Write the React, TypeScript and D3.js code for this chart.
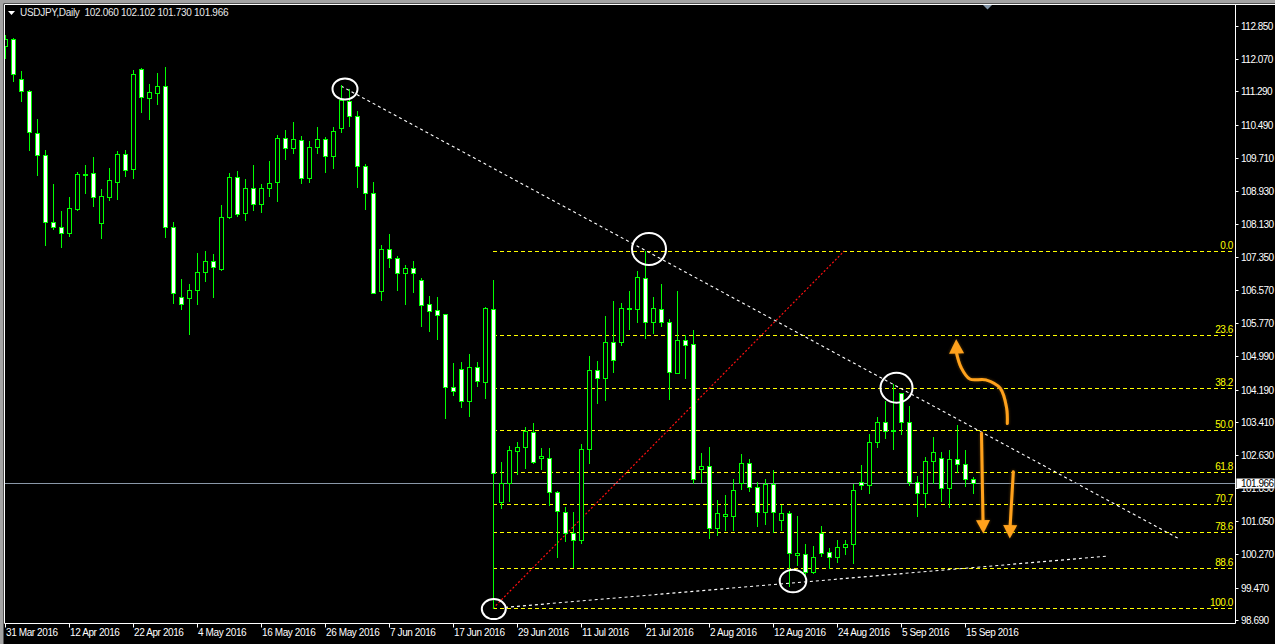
import React from 'react';
import * as d3 from 'd3';

// ---- Data (USDJPY daily, 31 Mar 2016 .. 16 Sep 2016) ----
const opens = [
  112.381, 112.533, 111.58, 111.301, 110.294, 109.769, 108.173, 108.054, 107.911, 108.49,
  109.324, 109.34, 108.149, 108.782, 109.14, 109.793, 109.436, 111.818, 111.142, 111.261,
  111.413, 108.068, 106.386, 106.377, 106.553, 106.982, 107.244, 107.053, 108.292, 109.245,
  108.387, 108.983, 108.602, 108.983, 109.126, 110.174, 109.936, 110.127, 109.221, 109.96,
  110.151, 109.745, 110.415, 111.07, 110.701, 109.512, 108.874, 106.543, 107.527, 107.313,
  106.97, 107.084, 106.789, 106.22, 106.083, 105.98, 104.254, 104.67, 103.908, 104.73,
  104.377, 106.107, 101.516, 101.954, 102.731, 102.812, 103.17, 102.56, 102.55, 101.74,
  101.278, 100.763, 100.603, 102.764, 104.647, 104.456, 105.314, 105.314, 106.107, 106.1,
  106.839, 105.79, 106.1, 105.79, 104.589, 105.369, 105.266, 102.288, 102.36, 100.882,
  101.182, 101.182, 101.969, 102.431, 101.859, 101.263, 101.938, 101.08, 101.24, 100.246,
  100.262, 99.848, 100.777, 100.31, 100.206, 100.43, 100.501, 101.992, 101.907, 102.945,
  103.408, 103.2, 104.099, 103.408, 101.992, 101.716, 102.478, 102.55, 101.835, 102.526,
  102.407, 102.06,
];
const highs = [
  112.636, 112.571, 111.778, 111.325, 110.634, 109.896, 109.086, 108.442, 108.769, 109.379,
  109.538, 109.729, 108.966, 109.467, 109.872, 109.896, 111.802, 111.856, 111.468, 111.737,
  111.88, 108.173, 106.822, 106.696, 107.449, 107.489, 107.411, 108.585, 109.34, 109.395,
  109.205, 109.531, 109.086, 109.634, 110.253, 110.372, 110.563, 110.222, 110.11, 110.436,
  110.198, 110.436, 111.44, 111.342, 110.825, 109.569, 109.136, 107.635, 107.897, 107.37,
  107.148, 107.256, 106.846, 106.419, 106.395, 106.0, 104.811, 104.835, 105.026, 104.835,
  106.164, 106.805, 102.455, 102.843, 102.938, 103.303, 103.391, 102.788, 102.788, 101.778,
  101.397, 101.263, 102.891, 104.988, 104.868, 105.94, 106.298, 106.257, 106.536, 107.013,
  107.489, 106.386, 106.696, 105.869, 106.536, 105.488, 105.607, 102.669, 102.819, 101.556,
  101.675, 102.057, 102.652, 102.533, 101.992, 102.057, 102.271, 101.437, 101.302, 101.175,
  100.501, 100.46, 100.937, 100.405, 100.603, 100.603, 101.938, 102.39, 103.129, 103.541,
  103.915, 104.32, 104.113, 103.796, 102.128, 102.574, 103.065, 102.707, 102.748, 103.344,
  102.748, 102.102,
];
const lows = [
  112.08, 111.547, 111.07, 109.896, 109.3, 107.632, 108.013, 107.592, 107.854, 108.466,
  108.878, 108.569, 107.806, 108.704, 108.728, 109.283, 109.236, 110.808, 110.634, 110.992,
  107.83, 106.257, 106.114, 105.512, 106.226, 106.782, 106.4, 107.04, 108.268, 108.323,
  108.221, 108.473, 108.426, 108.807, 108.688, 109.674, 109.831, 109.102, 109.14, 109.831,
  109.379, 109.46, 110.332, 110.472, 109.021, 108.488, 106.49, 106.329, 107.108, 106.558,
  106.231, 106.517, 105.705, 105.59, 105.393, 103.522, 104.056, 103.77, 103.565, 104.277,
  103.999, 98.976, 101.373, 101.54, 102.169, 102.326, 102.431, 102.288, 101.43, 100.191,
  100.587, 99.967, 100.525, 102.431, 103.875, 103.94, 104.613, 105.25, 105.624, 105.805,
  105.409, 105.542, 105.709, 103.963, 104.582, 104.47, 101.968, 101.992, 100.658, 100.722,
  100.842, 100.842, 101.818, 101.778, 100.944, 100.985, 100.801, 100.842, 99.508, 100.008,
  99.753, 99.82, 100.222, 99.929, 100.087, 100.27, 100.048, 101.811, 101.73, 102.826,
  103.041, 102.772, 103.122, 101.914, 101.182, 101.397, 101.954, 101.54, 101.397, 102.231,
  101.89, 101.73,
];
const closes = [
  112.533, 111.699, 111.294, 110.317, 109.769, 108.173, 108.068, 107.911, 108.506, 109.317,
  109.312, 108.783, 108.8, 109.174, 109.793, 109.426, 111.699, 111.166, 111.27, 111.413,
  108.068, 106.481, 106.219, 106.56, 106.989, 107.244, 107.101, 108.292, 109.245, 108.364,
  108.983, 108.602, 108.983, 109.117, 110.174, 109.936, 110.151, 109.221, 109.96, 110.151,
  109.745, 110.341, 111.097, 110.701, 109.512, 108.874, 106.5, 107.527, 107.33, 106.97,
  107.084, 106.97, 106.214, 106.067, 105.976, 104.244, 104.154, 103.908, 104.73, 104.384,
  106.131, 102.21, 101.954, 102.748, 102.812, 103.193, 102.455, 102.6, 101.74, 101.294,
  100.763, 100.603, 102.764, 104.647, 104.456, 105.314, 104.885, 106.124, 106.131, 106.862,
  105.79, 106.124, 105.79, 104.613, 105.369, 105.242, 102.05, 102.366, 100.882, 101.239,
  101.216, 101.788, 102.431, 101.859, 101.263, 101.938, 101.263, 101.24, 100.287, 100.286,
  99.848, 100.206, 100.3, 100.206, 100.444, 100.501, 101.795, 101.907, 102.931, 103.408,
  103.208, 103.22, 103.408, 101.992, 101.716, 102.478, 102.693, 101.835, 102.526, 102.414,
  102.05, 101.966,
];

const dateTickLabels = [
  '31 Mar 2016', '12 Apr 2016', '22 Apr 2016', '4 May 2016', '16 May 2016', '26 May 2016',
  '7 Jun 2016', '17 Jun 2016', '29 Jun 2016', '11 Jul 2016', '21 Jul 2016', '2 Aug 2016',
  '12 Aug 2016', '24 Aug 2016', '5 Sep 2016', '15 Sep 2016',
];
const priceTickLabels = [
  '112.850', '112.070', '111.290', '110.490', '109.710', '108.930', '108.130', '107.350',
  '106.570', '105.770', '104.990', '104.190', '103.410', '102.630', '101.850', '101.050',
  '100.270', '99.470', '98.690',
];
const fibLevels = [0, 23.6, 38.2, 50, 61.8, 70.7, 78.6, 88.6, 100];
const fibLabels = ['0.0', '23.6', '38.2', '50.0', '61.8', '70.7', '78.6', '88.6', '100.0'];
const fibHigh = 107.489;
const fibLow = 98.976;
const fibStartIndex = 61;

const lastPrice = 101.966;
const titleText = 'USDJPY,Daily  102.060 102.102 101.730 101.966';

// annotation anchors in (bar index, price)
const upperTrend: [number, number][] = [[42, 111.42], [146.6, 100.65]];
const lowerTrend: [number, number][] = [[62.5, 99.0], [137.9, 100.222]];
const fibDiagonal: [number, number][] = [[61, 98.976], [104.9, 107.489]];
const circles = [
  { i: 42.5, p: 111.349, rx: 12.5, ry: 10.5 },
  { i: 80.5, p: 107.537, rx: 17, ry: 16 },
  { i: 111.44, p: 104.232, rx: 16, ry: 15 },
  { i: 61.1, p: 98.959, rx: 12, ry: 10 },
  { i: 98.5, p: 99.627, rx: 13.3, ry: 11.3 },
];
const upArrowShaft: [number, number][] = [
  [125.29, 103.38], [125.2, 103.75], [124.4, 104.22], [122.6, 104.42], [120.6, 104.44],
  [119.5, 104.72], [118.95, 105.05],
];
const upArrowTip: [number, number] = [118.9, 105.39];
const downArrow1Shaft: [number, number][] = [[122.06, 103.15], [122.25, 101.08]];
const downArrow1Tip: [number, number] = [122.29, 100.76];
const downArrow2Shaft: [number, number][] = [[126.04, 102.23], [125.65, 100.96]];
const downArrow2Tip: [number, number] = [125.6, 100.64];

const FONT = "'Liberation Sans', Arial, sans-serif";

export default function App() {
  const W = 1275;
  const H = 644;
  const n = opens.length;
  const plotL = 5;
  const plotR = 1235.5;
  const plotT = 5;
  const plotB = 623.5;

  const x = d3.scaleLinear().domain([0, n - 1]).range([5, 5 + 8 * (n - 1)]);
  const y = d3.scaleLinear().domain([112.85, 98.69]).range([26, 620.4]);

  // trading dates (weekdays)
  const dates: Date[] = [];
  const d = new Date(2016, 2, 31);
  while (dates.length < n) {
    const wd = d.getDay();
    if (wd !== 0 && wd !== 6) dates.push(new Date(d));
    d.setDate(d.getDate() + 1);
  }
  const fmt = d3.timeFormat('%-d %b %Y');
  const dateIdx = new Map(dates.map((dt, i) => [fmt(dt), i]));

  const line = d3
    .line<[number, number]>()
    .x((p) => x(p[0]))
    .y((p) => y(p[1]));
  const curve = d3
    .line<[number, number]>()
    .x((p) => x(p[0]))
    .y((p) => y(p[1]))
    .curve(d3.curveCatmullRom.alpha(0.5));

  const arrowHead = (base: [number, number], tip: [number, number], hw: number) => {
    const bx = x(base[0]);
    const by = y(base[1]);
    const tx = x(tip[0]);
    const ty = y(tip[1]);
    const dx = tx - bx;
    const dy = ty - by;
    const len = Math.hypot(dx, dy) || 1;
    const nx = -dy / len;
    const ny = dx / len;
    return `M${bx + nx * hw},${by + ny * hw}L${tx},${ty}L${bx - nx * hw},${by - ny * hw}Z`;
  };

  const orange = '#FFA11C';
  const green = '#00FF00';
  const lastY = Math.round(y(lastPrice));

  return (
    <svg
      width={W}
      height={H}
      style={{ position: 'absolute', left: 0, top: 0, display: 'block', background: '#000' }}
      fontFamily={FONT}
    >
      <defs>
        <clipPath id="plot">
          <rect x={plotL} y={plotT} width={plotR - plotL} height={plotB - plotT} />
        </clipPath>
        <clipPath id="belowBox">
          <rect x={plotR + 1} y={lastY + 5.5} width={W - plotR} height={20} />
        </clipPath>
        <filter id="glow" x="-50%" y="-50%" width="200%" height="200%">
          <feDropShadow dx="0" dy="0" stdDeviation="1.6" floodColor="#6b3f00" floodOpacity="0.9" />
        </filter>
      </defs>
      <rect x={0} y={0} width={W} height={H} fill="#000" />
      {/* window frame */}
      <rect x={0} y={0} width={W} height={3.5} fill="#a3a3a3" />
      <rect x={0} y={0} width={3.5} height={H} fill="#a3a3a3" />
      <line x1={4.5} y1={4.5} x2={W} y2={4.5} stroke="#fff" strokeWidth={1} />
      <line x1={4.5} y1={4.5} x2={4.5} y2={plotB} stroke="#fff" strokeWidth={1} />

      <g clipPath="url(#plot)">
        {/* fibonacci levels */}
        {fibLevels.map((lv, i) => {
          const p = fibHigh - ((fibHigh - fibLow) * lv) / 100;
          const yy = Math.round(y(p)) + 0.5;
          return (
            <g key={'fib' + i}>
              <line
                x1={x(fibStartIndex)}
                x2={plotR}
                y1={yy}
                y2={yy}
                stroke="#FFFF00"
                strokeWidth={1}
                strokeDasharray="4,3"
              />
              <text
                x={1233}
                y={yy - 2.5}
                textAnchor="end"
                fill="#FFFF00"
                fontSize={10}
                style={{ letterSpacing: '-0.4px' }}
              >
                {fibLabels[i]}
              </text>
            </g>
          );
        })}
        {/* fib diagonal */}
        <path d={line(fibDiagonal) || ''} stroke="#FF1010" strokeWidth={1.2} strokeDasharray="2,2" fill="none" />
        {/* trendlines */}
        <path d={line(upperTrend) || ''} stroke="#fff" strokeWidth={1.1} strokeDasharray="3,3" fill="none" />
        <path d={line(lowerTrend) || ''} stroke="#fff" strokeWidth={1.1} strokeDasharray="3,3" fill="none" />
        {/* current price line */}
        <line x1={plotL} x2={plotR} y1={lastY + 0.5} y2={lastY + 0.5} stroke="#8a98a8" strokeWidth={1} />
        {/* candles */}
        {opens.map((o, i) => {
          const c = closes[i];
          const cx = Math.round(x(i));
          const top = Math.round(y(Math.max(o, c)));
          const bot = Math.round(y(Math.min(o, c)));
          const bull = c >= o;
          return (
            <g key={'c' + i}>
              <line
                x1={cx + 0.5}
                x2={cx + 0.5}
                y1={Math.round(y(highs[i]))}
                y2={Math.round(y(lows[i])) + 1}
                stroke={green}
                strokeWidth={1}
              />
              <rect
                x={cx - 2 + 0.5}
                y={top + 0.5}
                width={4}
                height={Math.max(1, bot - top)}
                fill={bull ? '#000' : '#fff'}
                stroke={green}
                strokeWidth={1}
              />
            </g>
          );
        })}
        {/* circles */}
        {circles.map((c, i) => (
          <ellipse
            key={'e' + i}
            cx={x(c.i)}
            cy={y(c.p)}
            rx={c.rx}
            ry={c.ry}
            fill="none"
            stroke="#fff"
            strokeWidth={2}
          />
        ))}
        {/* orange arrows */}
        <g filter="url(#glow)">
          <path d={curve(upArrowShaft) || ''} stroke={orange} strokeWidth={3} fill="none" strokeLinecap="round" />
          <path d={arrowHead(upArrowShaft[upArrowShaft.length - 1], upArrowTip, 7.5)} fill={orange} />
          <path d={line(downArrow1Shaft) || ''} stroke={orange} strokeWidth={3} fill="none" strokeLinecap="round" />
          <path d={arrowHead(downArrow1Shaft[1], downArrow1Tip, 7)} fill={orange} />
          <path d={line(downArrow2Shaft) || ''} stroke={orange} strokeWidth={3} fill="none" strokeLinecap="round" />
          <path d={arrowHead(downArrow2Shaft[1], downArrow2Tip, 7)} fill={orange} />
        </g>
      </g>

      {/* chart shift marker */}
      <path d="M983,5 L992,5 L987.5,9.5 Z" fill="#8193a5" />

      {/* title */}
      <path d="M8,11 L15,11 L11.5,15 Z" fill="#fff" />
      <text x={20} y={16} fill="#e8e8e8" fontSize={10} style={{ whiteSpace: 'pre', letterSpacing: '-0.3px' }}>
        {titleText}
      </text>

      {/* axes lines */}
      <line x1={plotR} x2={plotR} y1={4.5} y2={plotB} stroke="#fff" strokeWidth={1} />
      <line x1={4.5} x2={plotR} y1={plotB} y2={plotB} stroke="#fff" strokeWidth={1} />

      {/* price axis */}
      {priceTickLabels.map((lab) => {
        const yy = Math.round(y(parseFloat(lab))) + 0.5;
        const hidden = Math.abs(yy - lastY) < 10;
        return (
          <g key={'pt' + lab}>
            <line x1={plotR} x2={plotR + 3} y1={yy} y2={yy} stroke="#fff" strokeWidth={1} />
            <text
              x={1241}
              y={yy + 3.5}
              fill="#fff"
              fontSize={10}
              clipPath={hidden ? 'url(#belowBox)' : undefined}
              style={{ letterSpacing: '-0.5px' }}
            >
              {lab}
            </text>
          </g>
        );
      })}
      {/* last price label */}
      <rect x={1236.5} y={lastY - 4.5} width={38} height={10} fill="#fff" />
      <text x={1241} y={lastY + 4} fill="#000" fontSize={10} style={{ letterSpacing: '-0.5px' }}>
        {lastPrice.toFixed(3)}
      </text>

      {/* date axis */}
      {dateTickLabels.map((lab) => {
        const i = dateIdx.get(lab);
        if (i === undefined) return null;
        const xx = Math.round(x(i)) + 0.5;
        return (
          <g key={'dt' + lab}>
            <line x1={xx} x2={xx} y1={plotB} y2={plotB + 4} stroke="#fff" strokeWidth={1} />
            <text x={xx + 0.5} y={636} fill="#fff" fontSize={10} style={{ letterSpacing: '-0.4px' }}>
              {lab}
            </text>
          </g>
        );
      })}
    </svg>
  );
}
